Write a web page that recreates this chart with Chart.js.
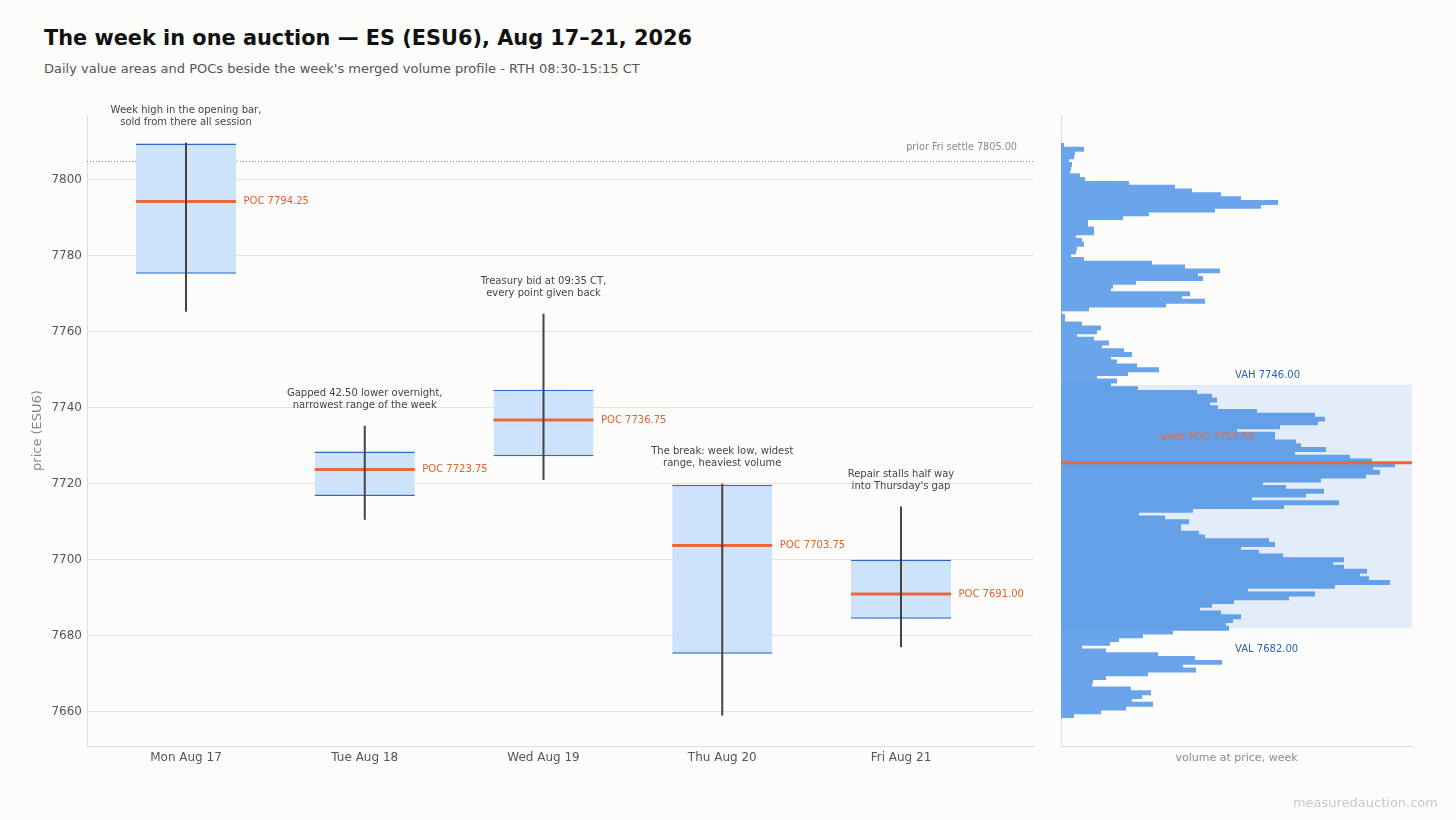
<!DOCTYPE html>
<html><head><meta charset="utf-8">
<script src="https://cdn.jsdelivr.net/npm/chart.js@4.4.1/dist/chart.umd.min.js"></script>
<style>
html,body{margin:0;padding:0;background:#fcfcfa;}
body{width:1456px;height:820px;position:relative;overflow:hidden;font-family:'DejaVu Sans',sans-serif;}
#title{position:absolute;left:44px;top:28px;font-size:20.85px;line-height:21px;font-weight:bold;color:#111;white-space:nowrap;}
#subtitle{position:absolute;left:44px;top:62px;font-size:13px;line-height:13px;color:#555;white-space:nowrap;}
#footer{position:absolute;right:18px;top:796px;font-size:13px;line-height:13px;color:#c9c9c9;white-space:nowrap;}
#left{position:absolute;left:0;top:0;}
#right{position:absolute;left:1040px;top:0;}
</style></head><body>
<div id="title">The week in one auction — ES (ESU6), Aug 17–21, 2026</div>
<div id="subtitle">Daily value areas and POCs beside the week's merged volume profile - RTH 08:30-15:15 CT</div>
<canvas id="left" width="1040" height="820"></canvas>
<canvas id="right" width="416" height="820"></canvas>
<div id="footer">measuredauction.com</div>
<script>
// ---------- data ----------
const days = ['Mon Aug 17', 'Tue Aug 18', 'Wed Aug 19', 'Thu Aug 20', 'Fri Aug 21'];
const dayHigh = [7809.75, 7735.25, 7764.75, 7720.00, 7714.00];
const dayLow  = [7765.25, 7710.50, 7721.00, 7659.00, 7677.00];
const dayVAH  = [7809.50, 7728.50, 7744.75, 7719.75, 7700.00];
const dayVAL  = [7775.25, 7716.75, 7727.25, 7675.25, 7684.50];
const dayPOC  = [7794.25, 7723.75, 7736.75, 7703.75, 7691.00];
const dayNotes = [
  ['Week high in the opening bar,', 'sold from there all session'],
  ['Gapped 42.50 lower overnight,', 'narrowest range of the week'],
  ['Treasury bid at 09:35 CT,', 'every point given back'],
  ['The break: week low, widest', 'range, heaviest volume'],
  ['Repair stalls half way', "into Thursday's gap"]
];
const priorSettle = 7805.00;
const weekVAH = 7746.00;
const weekVAL = 7682.00;
const weekPOC = 7725.50;
const priceTicks = [7660, 7680, 7700, 7720, 7740, 7760, 7780, 7800];
const priceMin = 7651;
const priceMax = 7817;

const profilePrices = [
  7809, 7808, 7807, 7806, 7805, 7804, 7803, 7802, 7801, 7800,
  7799, 7798, 7797, 7796, 7795, 7794, 7793, 7792, 7791, 7790,
  7789, 7788, 7787, 7786, 7785, 7784, 7783, 7782, 7781, 7780,
  7779, 7778, 7777, 7776, 7775, 7774, 7773, 7772, 7771, 7770,
  7769, 7768, 7767, 7766, 7765, 7764, 7763, 7762, 7761, 7760,
  7759, 7758, 7757, 7756, 7755, 7754, 7753, 7752, 7751, 7750,
  7749, 7748, 7747, 7746, 7745, 7744, 7743, 7742, 7741, 7740,
  7739, 7738, 7737, 7736, 7735, 7734, 7733, 7732, 7731, 7730,
  7729, 7728, 7727, 7726, 7725, 7724, 7723, 7722, 7721, 7720,
  7719, 7718, 7717, 7716, 7715, 7714, 7713, 7712, 7711, 7710,
  7709, 7708, 7707, 7706, 7705, 7704, 7703, 7702, 7701, 7700,
  7699, 7698, 7697, 7696, 7695, 7694, 7693, 7692, 7691, 7690,
  7689, 7688, 7687, 7686, 7685, 7684, 7683, 7682, 7681, 7680,
  7679, 7678, 7677, 7676, 7675, 7674, 7673, 7672, 7671, 7670,
  7669, 7668, 7667, 7666, 7665, 7664, 7663, 7662, 7661, 7660,
  7659
];
const profileVolume = [
  30, 230, 140, 130, 80, 110, 100, 90, 190, 240,
  680, 1140, 1310, 1600, 1800, 2170, 2000, 1540, 880, 620,
  270, 270, 330, 330, 150, 210, 230, 160, 150, 100,
  230, 910, 1240, 1590, 1370, 1420, 750, 520, 500, 1290,
  1210, 1440, 1050, 280, 10, 40, 40, 210, 400, 360,
  160, 330, 480, 410, 630, 710, 500, 560, 760, 980,
  670, 360, 560, 500, 770, 1360, 1510, 1560, 1490, 1570,
  1960, 2540, 2640, 2570, 2190, 1760, 2140, 2140, 2350, 2400,
  2650, 2340, 2890, 3110, 3340, 3120, 3190, 3050, 2600, 2020,
  2250, 2630, 2450, 1910, 2780, 2230, 1320, 780, 1040, 1280,
  1200, 1200, 1380, 1440, 2080, 2140, 1800, 1980, 2220, 2830,
  2720, 2830, 3060, 2990, 3080, 3290, 2740, 1870, 2540, 2280,
  1730, 1510, 1390, 1600, 1800, 1720, 1650, 1680, 1120, 820,
  580, 490, 210, 450, 970, 1340, 1610, 1220, 1350, 870,
  450, 320, 310, 700, 900, 810, 710, 920, 650, 400,
  130
];
const volumeMax = 3510;

// ---------- styling ----------
Chart.defaults.font.family = "'DejaVu Sans', sans-serif";
Chart.defaults.color = '#555';
const ORANGE = '#e8673c';
const BLUE_LINE = '#2c6ac4';
const BAR_OUT = '#6aa4ea';
const BAR_IN = '#64a0e8';

const leftDeco = {
  id: 'leftDeco',
  beforeDatasetsDraw(chart) {
    const {ctx, chartArea: a, scales: {y}} = chart;
    const py = Math.round(y.getPixelForValue(priorSettle)) + 0.5;
    ctx.save();
    ctx.strokeStyle = '#8a8a8a';
    ctx.lineWidth = 1;
    ctx.setLineDash([1, 2]);
    ctx.beginPath(); ctx.moveTo(a.left, py); ctx.lineTo(a.right, py); ctx.stroke();
    ctx.setLineDash([]);
    ctx.fillStyle = '#8a8a8a';
    ctx.font = "9.7px 'DejaVu Sans'";
    ctx.textAlign = 'right'; ctx.textBaseline = 'middle';
    ctx.fillText('prior Fri settle ' + priorSettle.toFixed(2), a.right - 17, py - 14.5);
    ctx.restore();
  },
  afterDatasetDraw(chart, args) {
    if (args.index !== 0) return;
    const {ctx, scales: {y}} = chart;
    const meta = chart.getDatasetMeta(0);
    ctx.save();
    ctx.strokeStyle = ORANGE; ctx.lineWidth = 3;
    meta.data.forEach((el, i) => {
      const py = y.getPixelForValue(dayPOC[i]);
      ctx.beginPath(); ctx.moveTo(el.x - el.width / 2, py); ctx.lineTo(el.x + el.width / 2, py); ctx.stroke();
    });
    ctx.restore();
  },
  afterDatasetsDraw(chart) {
    const {ctx, scales: {y}} = chart;
    const meta = chart.getDatasetMeta(0);
    ctx.save();
    ctx.font = "10px 'DejaVu Sans'";
    ctx.textBaseline = 'middle';
    meta.data.forEach((el, i) => {
      ctx.fillStyle = '#e0622f'; ctx.textAlign = 'left';
      ctx.fillText('POC ' + dayPOC[i].toFixed(2), el.x + el.width / 2 + 7.5, y.getPixelForValue(dayPOC[i]));
      const hy = y.getPixelForValue(dayHigh[i]);
      ctx.fillStyle = '#444'; ctx.textAlign = 'center';
      ctx.fillText(dayNotes[i][0], el.x, hy - 32.5);
      ctx.fillText(dayNotes[i][1], el.x, hy - 20.5);
    });
    ctx.restore();
  }
};

new Chart(document.getElementById('left'), {
  type: 'bar',
  data: {
    datasets: [
      {
        data: days.map((d, i) => ({x: i, y: [dayVAL[i], dayVAH[i]]})),
        backgroundColor: '#cde2fb',
        borderColor: BLUE_LINE,
        borderWidth: {top: 1.5, bottom: 1.5, left: 0, right: 0},
        borderSkipped: false,
        barPercentage: 0.56,
        categoryPercentage: 1,
        grouped: false,
        order: 2
      },
      {
        data: days.map((d, i) => ({x: i, y: [dayLow[i], dayHigh[i]]})),
        backgroundColor: '#444',
        barThickness: 2,
        inflateAmount: 0,
        grouped: false,
        order: 1
      }
    ]
  },
  options: {
    responsive: false,
    animation: false,
    layout: {padding: {left: 0, right: 6, top: 115, bottom: 0}},
    plugins: {legend: {display: false}, tooltip: {enabled: false}},
    scales: {
      x: {
        type: 'linear', min: -0.55385, max: 4.74406, offset: false,
        afterBuildTicks(s) { s.ticks = days.map((d, i) => ({value: i})); },
        ticks: {callback: v => days[v], color: '#555', font: {size: 12}, padding: 5, autoSkip: false, maxRotation: 0},
        grid: {display: false, drawTicks: false, offset: false},
        border: {display: true, color: '#dcdcd8'},
        afterFit(s) { s.height = 74; }
      },
      y: {
        type: 'linear', min: priceMin, max: priceMax,
        afterBuildTicks(s) { s.ticks = priceTicks.map(v => ({value: v})); },
        ticks: {callback: v => String(v), color: '#555', font: {size: 12}, padding: 5},
        grid: {color: '#e2e2de', drawTicks: false},
        border: {display: true, color: '#dcdcd8'},
        title: {display: true, text: 'price (ESU6)', color: '#888', font: {size: 13}, padding: {top: 30, bottom: 0}},
        afterFit(s) { s.width = 87; }
      }
    }
  },
  plugins: [leftDeco]
});

const rightDeco = {
  id: 'rightDeco',
  beforeDatasetsDraw(chart) {
    const {ctx, chartArea: a, scales: {y}} = chart;
    const t = y.getPixelForValue(weekVAH), b = y.getPixelForValue(weekVAL);
    ctx.save();
    ctx.fillStyle = '#e3edfa';
    ctx.fillRect(a.left, t, a.right - a.left, b - t);
    ctx.restore();
  },
  afterDatasetsDraw(chart) {
    const {ctx, chartArea: a, scales: {y}} = chart;
    const pp = y.getPixelForValue(weekPOC);
    ctx.save();
    ctx.strokeStyle = ORANGE; ctx.lineWidth = 3;
    ctx.beginPath(); ctx.moveTo(a.left, pp); ctx.lineTo(a.right, pp); ctx.stroke();
    ctx.font = "10px 'DejaVu Sans'";
    ctx.textBaseline = 'middle';
    const cx = (a.left + a.right) / 2;
    ctx.fillStyle = '#2a63b8'; ctx.textAlign = 'left';
    ctx.fillText('VAH ' + weekVAH.toFixed(2), cx - 1.5, y.getPixelForValue(weekVAH) - 9);
    ctx.fillText('VAL ' + weekVAL.toFixed(2), cx - 1.5, y.getPixelForValue(weekVAL) + 21);
    ctx.fillStyle = 'rgba(232,103,60,0.9)'; ctx.textAlign = 'center';
    ctx.fillText('week POC ' + weekPOC.toFixed(2), a.left + (a.right - a.left) * 0.416, pp - 25);
    ctx.restore();
  }
};

new Chart(document.getElementById('right'), {
  type: 'bar',
  data: {
    datasets: [{
      data: profilePrices.map((p, i) => ({x: profileVolume[i], y: p})),
      backgroundColor: profilePrices.map(p => (p <= weekVAH && p >= weekVAL) ? BAR_IN : BAR_OUT),
      borderWidth: 0,
      barPercentage: 1.3,
      categoryPercentage: 1
    }]
  },
  options: {
    indexAxis: 'y',
    responsive: false,
    animation: false,
    layout: {padding: {left: 21, right: 44, top: 115, bottom: 0}},
    plugins: {legend: {display: false}, tooltip: {enabled: false}},
    scales: {
      x: {
        type: 'linear', min: 0, max: volumeMax,
        ticks: {display: false},
        grid: {display: false, drawTicks: false},
        border: {display: true, color: '#dcdcd8'},
        title: {display: true, text: 'volume at price, week', color: '#8a8a8a', font: {size: 11}, padding: {top: 0, bottom: 55}},
        afterFit(s) { s.height = 74; }
      },
      y: {
        type: 'linear', min: priceMin, max: priceMax, offset: false,
        ticks: {display: false},
        grid: {display: false, drawTicks: false, offset: false},
        border: {display: true, color: '#dcdcd8'},
        afterFit(s) { s.width = 0; }
      }
    }
  },
  plugins: [rightDeco]
});
</script>
</body></html>
